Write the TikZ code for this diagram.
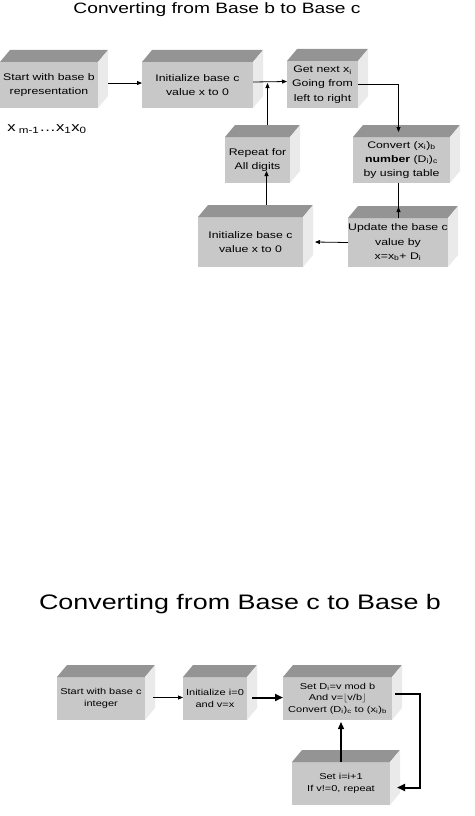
\documentclass[tikz,border=0pt]{standalone}
\usepackage{fontspec}
\setmainfont{Liberation Sans}[FakeStretch=1.28]
\usepackage{tikz}
\usetikzlibrary{arrows.meta, positioning, calc}

\definecolor{slabfront}{RGB}{200,200,200}
\definecolor{slabtop}{RGB}{148,148,148}
\definecolor{slabside}{RGB}{234,234,234}

\begin{document}
\begin{tikzpicture}[x=1pt, y=-1pt, >={Triangle[length=5pt,width=4pt]}, line width=0.8pt,
    slab/.style={fill=slabfront, inner sep=0pt, outer sep=0pt, align=center,
      font=\fontsize{9.6}{14.2}\selectfont},
    smallslab/.style={slab, font=\fontsize{8.6}{11.5}\selectfont},
    heavy/.style={line width=2pt, >={Triangle[length=8pt,width=7pt]}}]
    \useasboundingbox (0,0) rectangle (474,816);

    % Base b to base c
    \node[anchor=base, font=\fontsize{15}{18}\selectfont] (title1) at (217,14) {Converting from Base b to Base c};
    \node[slab, minimum width=98pt, minimum height=46pt] (start) at (49,85) {Start with base b\\representation};
    \node[slab, minimum width=111pt, minimum height=46pt] (init) at (197.5,85) {Initialize base c\\value x to 0};
    \node[slab, minimum width=71pt, minimum height=47pt] (getnext) at (322.5,84.5) {Get next x\textsubscript{i}\\Going from\\left to right};
    \node[slab, minimum width=65pt, minimum height=46pt] (repeat) at (257.5,160) {Repeat for\\All digits};
    \node[slab, minimum width=97pt, minimum height=46pt] (convert) at (401.5,160) {Convert (x\textsubscript{i})\textsubscript{b}\\\textbf{number} (D\textsubscript{i})\textsubscript{c}\\by using table};
    \node[slab, minimum width=100pt, minimum height=49pt] (update) at (398,242.5) {Update the base c\\value by\\x=x\textsubscript{b}+ D\textsubscript{i}};
    \node[slab, minimum width=105pt, minimum height=50pt] (init2) at (250.5,242) {Initialize base c\\value x to 0};
    \node[font=\fontsize{13}{15}\selectfont] (digits) at (47,129) {x\textsubscript{ m-1}\ldots x\textsubscript{1}x\textsubscript{0}};

    % Base c to base b
    \node[anchor=base, font=\fontsize{21}{24}\selectfont] (title2) at (240,609) {Converting from Base c to Base b};
    \node[smallslab, minimum width=88pt, minimum height=43pt] (cstart) at (101,698.5) {Start with base c\\integer};
    \node[smallslab, minimum width=64pt, minimum height=43pt] (cinit) at (215,698.5) {Initialize i=0\\and v=x};
    \node[smallslab, minimum width=109pt, minimum height=43pt] (cset) at (337.5,698.5) {Set D\textsubscript{i}=v mod b\\And v=$\lfloor$v/b$\rfloor$\\Convert (D\textsubscript{i})\textsubscript{c} to (x\textsubscript{i})\textsubscript{b}};
    \node[smallslab, minimum width=98pt, minimum height=43pt] (cnext) at (341,783.5) {Set i=i+1\\If v!=0, repeat};

    % top and side faces
    \foreach \n in {start,init,getnext,repeat,convert,update,init2,cstart,cinit,cset,cnext} {
        \fill[slabtop] (\n.north west) -- ++(10,-12) -- ([shift={(10,-12)}]\n.north east) -- (\n.north east) -- cycle;
        \fill[slabside] (\n.north east) -- ++(10,-12) -- ([shift={(10,-12)}]\n.south east) -- (\n.south east) -- cycle;
    }

    % arrows, first loop
    \draw[->] ([shift={(10,-2)}]start.east) -- ([shift={(0,-2)}]init.west);
    \draw[->] ([shift={(0,-3)}]init.east) -- ([shift={(0,-3)}]getnext.west);
    \draw[->] ([shift={(10,-12)}]repeat.north) -- ++(0,-42);
    \draw[->] (getnext.east) -| ([shift={(-3,-5)}]convert.north);
    \draw[->] ([shift={(-3,0)}]convert.south) -- ([shift={(-3,0)}]convert.south |- update.north) -- ++(0,-11);
    \draw[->] (update.west) -- ([shift={(12,0)}]init2.east);
    \draw[->] ([shift={(16,-12)}]init2.north) -- ([shift={(16,-12)}]init2.north |- repeat.south);

    % arrows, second loop
    \draw[->] ([shift={(8,-1)}]cstart.east) -- ([shift={(0,-1)}]cinit.west);
    \draw[heavy, ->] ([shift={(5,-1)}]cinit.east) -- ([shift={(0,-1)}]cset.west);
    \draw[heavy, ->] ([shift={(3,-5)}]cset.east) -- ++(25,0) |- ([shift={(7,4)}]cnext.east);
    \draw[line width=1.3pt, ->, >={Triangle[length=7pt,width=6pt]}] (cnext.north) -- ([shift={(0,2)}]cnext.north |- cset.south);
\end{tikzpicture}
\end{document}
